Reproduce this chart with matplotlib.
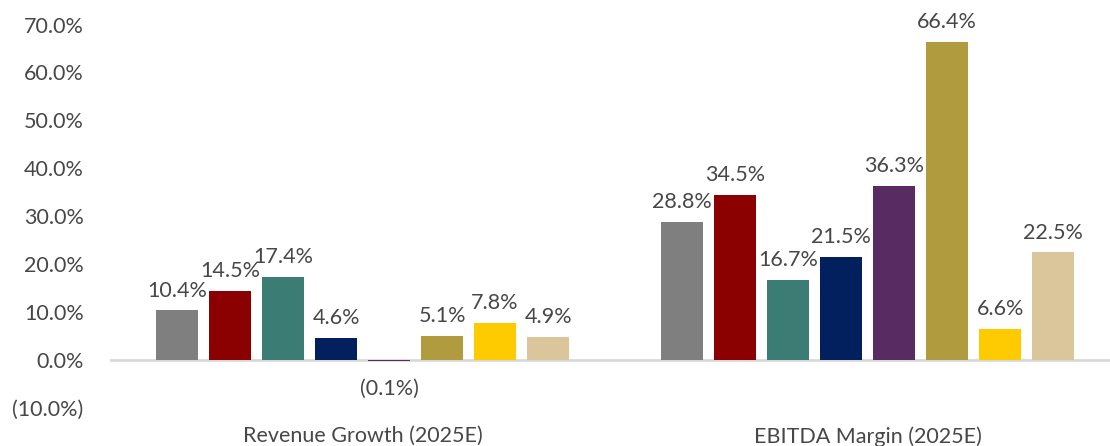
import matplotlib
matplotlib.use('Agg')
import numpy as np
import matplotlib.pyplot as plt
from matplotlib.ticker import FuncFormatter

plt.rcParams['font.family'] = ['Lato', 'DejaVu Sans']

categories = ['Revenue Growth (2025E)', 'EBITDA Margin (2025E)']
series_colors = ['#7f7f7f', '#8b0000', '#3b7d74', '#02205d',
                 '#582c62', '#b09b3e', '#fecb00', '#dbc69b']
# one list per company, values for each category
series_values = [
    [10.4, 28.8],
    [14.5, 34.5],
    [17.4, 16.7],
    [4.6, 21.5],
    [-0.1, 36.3],
    [5.1, 66.4],
    [7.8, 6.6],
    [4.9, 22.5],
]


def pct(v, pos=None):
    if v < 0:
        return f'({abs(v):.1f}%)'
    return f'{v:.1f}%'


fig = plt.figure(figsize=(11.1, 4.46), dpi=100)
ax = fig.add_axes([0.0991, 0.085, 0.91, 0.86])

x = np.arange(len(categories))
step = 0.105
width = 0.083
n = len(series_values)
text_color = '#474747'
fs = 15.5

for i, (vals, col) in enumerate(zip(series_values, series_colors)):
    pos = x + (i - (n - 1) / 2) * step
    bars = ax.bar(pos, vals, width, color=col, zorder=2)
    for b, v in zip(bars, vals):
        if v >= 0:
            ax.annotate(pct(v), (b.get_x() + b.get_width() / 2, v),
                        xytext=(0, 7), textcoords='offset points',
                        ha='center', va='bottom', fontsize=fs, color=text_color)
        else:
            ax.annotate(pct(v), (b.get_x() + b.get_width() / 2, v),
                        xytext=(0, -13), textcoords='offset points',
                        ha='center', va='top', fontsize=fs, color=text_color)

ax.axhline(0, color='#d9d9d9', lw=2, zorder=1)
ax.set_ylim(-10, 70)
ax.set_xlim(-0.5, 1.5)
ax.set_yticks(np.arange(-10, 71, 10))
ax.yaxis.set_major_formatter(FuncFormatter(pct))
ax.set_xticks(x)
ax.set_xticklabels(categories)
ax.tick_params(axis='both', length=0, labelsize=fs, colors=text_color)
ax.tick_params(axis='y', pad=19)
ax.tick_params(axis='x', pad=13)
for s in ax.spines.values():
    s.set_visible(False)

plt.savefig('out.png', dpi=100)
plt.close()
